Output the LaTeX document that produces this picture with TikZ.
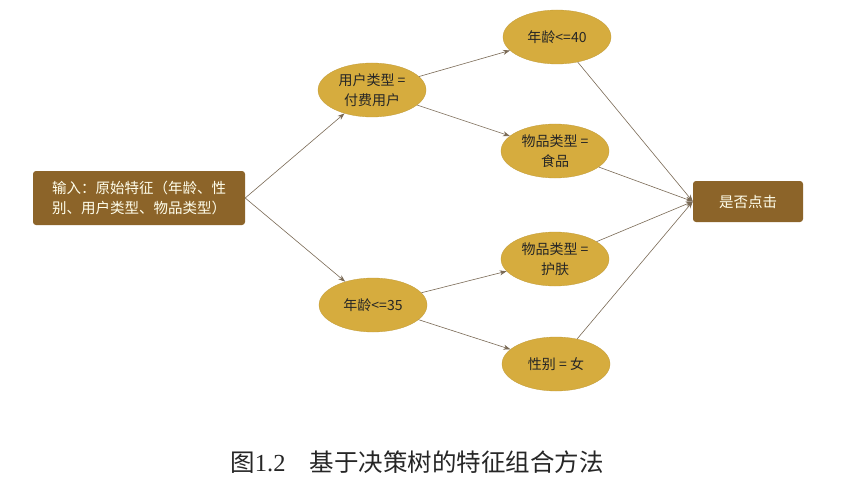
\documentclass[tikz,border=0pt]{standalone}
\usepackage{fontspec}
\setmainfont{Liberation Serif}
\newfontfamily\cjk{Noto Sans CJK SC}
\usetikzlibrary{shapes.geometric,arrows.meta}
\definecolor{gold}{HTML}{D6AC3E}
\definecolor{brownbox}{HTML}{8C6429}
\definecolor{linkcol}{HTML}{7A6A55}
\tikzset{
  leaf/.style={ellipse,fill=gold,draw=gold!90!black,line width=0.3pt,minimum width=108pt,minimum height=54pt,inner sep=0pt,align=center,font=\cjk\fontsize{14}{20}\selectfont,text=black!85},
  darkbox/.style={rectangle,rounded corners=3pt,fill=brownbox,text=white!92!yellow,align=center,font=\cjk\fontsize{14.5}{20}\selectfont,inner sep=2pt},
  link/.style={draw=linkcol,line width=0.6pt,-{Stealth[length=7pt,width=5pt]}}
}
\begin{document}
\begin{tikzpicture}[x=1pt,y=-1pt]
\useasboundingbox[fill=white] (0,0) rectangle (864,484);
% input and output boxes
\node[darkbox,minimum width=212pt,minimum height=54pt] (in) at (139,198) {输入：原始特征（年龄、性\\别、用户类型、物品类型）};
\node[darkbox,minimum width=110pt,minimum height=41pt] (out) at (748,201.5) {是否点击};
% split nodes
\node[leaf] (user) at (372,90) {用户类型 =\\付费用户};
\node[leaf] (age35) at (373,305) {年龄<=35};
% leaf conditions
\node[leaf] (age40) at (557,37) {年龄<=40};
\node[leaf] (food) at (555,151) {物品类型 =\\食品};
\node[leaf] (skin) at (555,259) {物品类型 =\\护肤};
\node[leaf] (sex) at (556,364) {性别 = 女};
% connectors
\draw[link] (in.east) -- (user);
\draw[link] (in.east) -- (age35);
\draw[link] (user) -- (age40);
\draw[link] (user) -- (food);
\draw[link] (age35) -- (skin);
\draw[link] (age35) -- (sex);
\draw[link] (age40) -- (out.west);
\draw[link] (food) -- (out.west);
\draw[link] (skin) -- (out.west);
\draw[link] (sex) -- (out.west);
% caption
\node[font=\fontsize{24.5}{28}\selectfont,text=black!85] (cap) at (417,462) {{\cjk 图}1.2\hspace{24pt}{\cjk 基于决策树的特征组合方法}};
\end{tikzpicture}
\end{document}
